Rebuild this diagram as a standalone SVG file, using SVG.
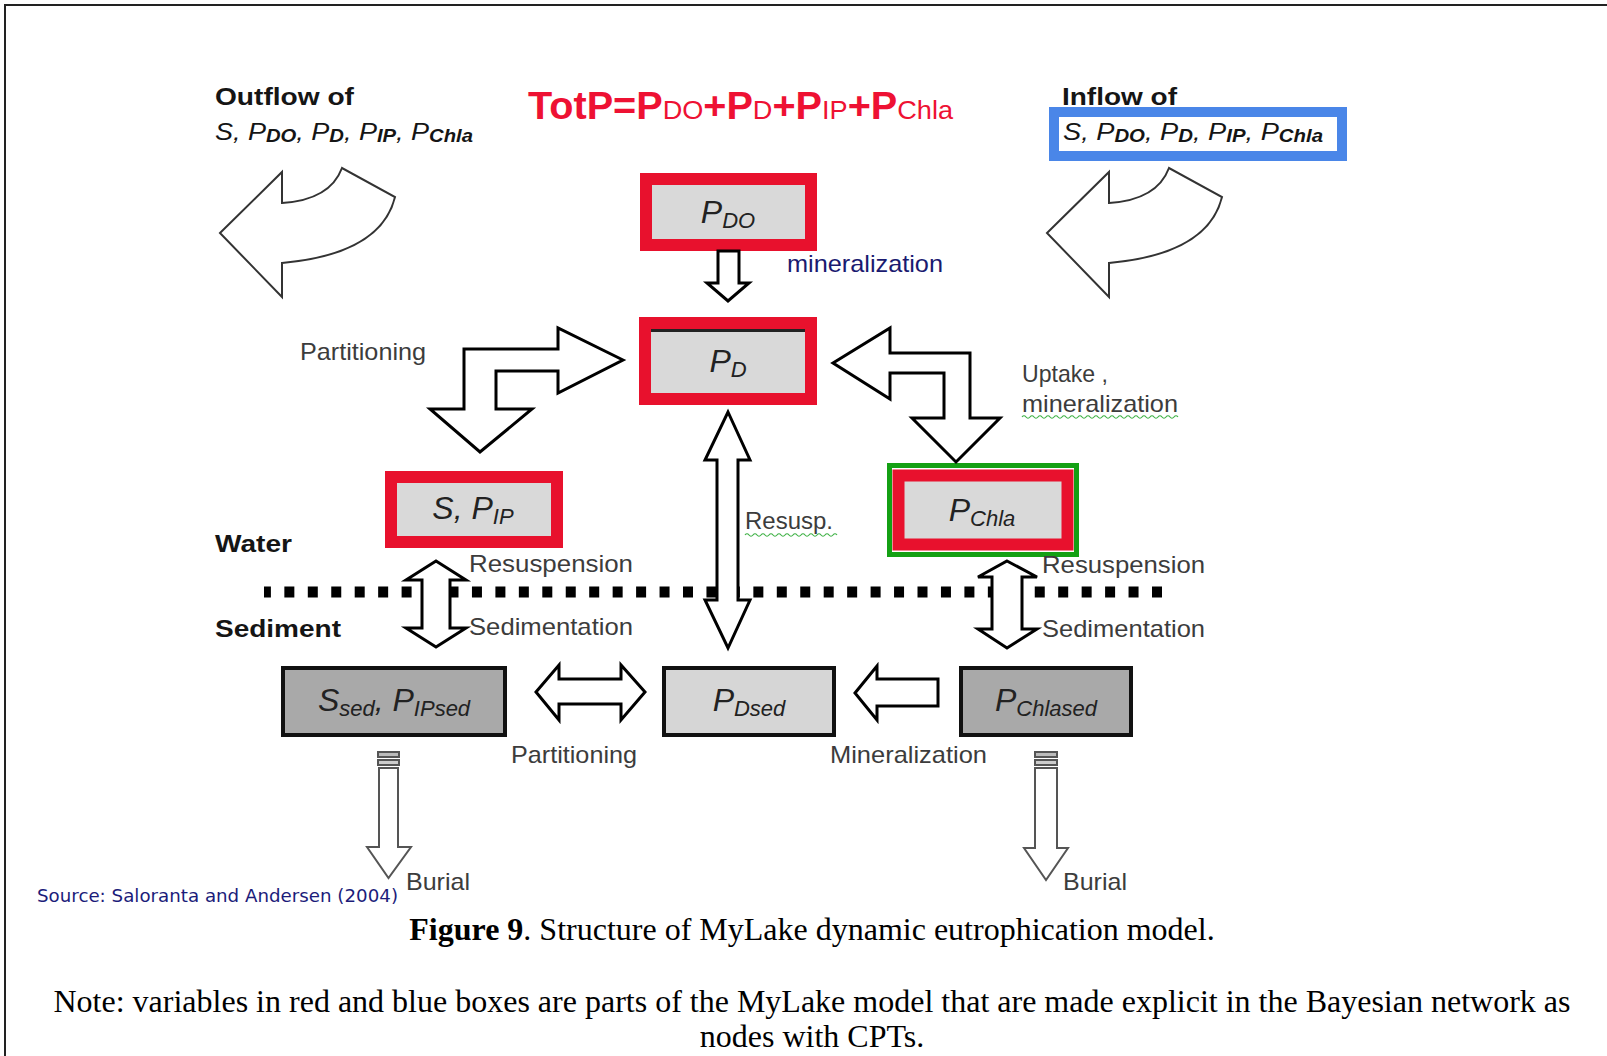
<svg xmlns="http://www.w3.org/2000/svg" width="1607" height="1056" viewBox="0 0 1607 1056">
  <style>
    .lbl { font-family: "Liberation Sans", Arial, sans-serif; font-size: 24px; fill: #3c3c3c; }
    .hdr { font-family: "Liberation Sans", Arial, sans-serif; font-size: 24px; font-weight: bold; fill: #151515; }
    .var { font-family: "Liberation Sans", Arial, sans-serif; font-size: 24px; font-style: italic; fill: #151515; }
    .vsub { font-size: 18px; font-weight: bold; }
    .node { font-family: "Liberation Sans", Arial, sans-serif; font-size: 32px; font-style: italic; fill: #222; text-anchor: middle; }
    .nsub { font-size: 22px; }
    .tot { font-family: "Liberation Sans", Arial, sans-serif; font-size: 38px; font-weight: bold; fill: #ee1133; }
    .tsub { font-size: 26px; font-weight: normal; }
    .cap { font-family: "Liberation Serif", "Times New Roman", serif; font-size: 32px; fill: #000; text-anchor: middle; }
    .redbox { fill: #d9d9d9; stroke: #e8112d; stroke-width: 12; }
    .sedbox { stroke: #111; stroke-width: 4; }
    .blk { fill: #fff; stroke: #000; stroke-width: 3; stroke-linejoin: miter; }
    .curve { fill: #fff; stroke: #333; stroke-width: 2; stroke-linejoin: miter; }
    .burial { fill: #fff; stroke: #555; stroke-width: 2; }
    .squig { fill: none; stroke: #3cb043; stroke-width: 1.2; }
  </style>

  <rect x="0" y="0" width="1607" height="1056" fill="#fff"/>
  <!-- frame -->
  <path d="M5 1056 V5 H1607" fill="none" stroke="#222" stroke-width="2"/>

  <!-- water / sediment boundary -->
  <line x1="264" y1="592" x2="1163" y2="592" stroke="#000" stroke-width="11" stroke-dasharray="10 13.45" stroke-dashoffset="3.1"/>
  <text class="hdr" x="215" y="552" textLength="77" lengthAdjust="spacingAndGlyphs">Water</text>
  <text class="hdr" x="215" y="637" textLength="126" lengthAdjust="spacingAndGlyphs">Sediment</text>

  <!-- outflow -->
  <g id="outflow">
    <text class="hdr" x="215" y="105" textLength="139" lengthAdjust="spacingAndGlyphs">Outflow of</text>
    <text class="var" x="215" y="140" textLength="258" lengthAdjust="spacingAndGlyphs">S, P<tspan class="vsub" dy="2">DO</tspan><tspan dy="-2">, P</tspan><tspan class="vsub" dy="2">D</tspan><tspan dy="-2">, P</tspan><tspan class="vsub" dy="2">IP</tspan><tspan dy="-2">, P</tspan><tspan class="vsub" dy="2">Chla</tspan></text>
    <path class="curve" d="M220 233 L282 172 L282 203 Q330 200 342 168 L395 197 Q381 254 282 263 L282 297 Z"/>
  </g>

  <!-- inflow -->
  <g id="inflow">
    <rect x="1054" y="112" width="288" height="44" fill="#fff" stroke="#4a86e8" stroke-width="10"/>
    <text class="hdr" x="1062" y="105" textLength="115" lengthAdjust="spacingAndGlyphs">Inflow of</text>
    <text class="var" x="1063" y="140" textLength="260" lengthAdjust="spacingAndGlyphs">S, P<tspan class="vsub" dy="2">DO</tspan><tspan dy="-2">, P</tspan><tspan class="vsub" dy="2">D</tspan><tspan dy="-2">, P</tspan><tspan class="vsub" dy="2">IP</tspan><tspan dy="-2">, P</tspan><tspan class="vsub" dy="2">Chla</tspan></text>
    <path class="curve" d="M1047 233 L1109 172 L1109 203 Q1157 200 1169 168 L1222 197 Q1208 254 1109 263 L1109 297 Z"/>
  </g>

  <!-- total phosphorus -->
  <text id="totp" class="tot" x="528" y="119" textLength="425" lengthAdjust="spacingAndGlyphs">TotP=P<tspan class="tsub">DO</tspan>+P<tspan class="tsub">D</tspan>+P<tspan class="tsub">IP</tspan>+P<tspan class="tsub">Chla</tspan></text>

  <!-- water column nodes -->
  <g id="node-pdo">
    <rect class="redbox" x="646" y="179" width="165" height="66" stroke-width="11"/>
    <text class="node" x="728" y="223">P<tspan class="nsub" dy="5">DO</tspan></text>
  </g>

  <g id="node-pd">
    <rect class="redbox" x="645" y="323" width="166" height="76"/>
    <line x1="651" y1="330.5" x2="805" y2="330.5" stroke="#222" stroke-width="3"/>
    <text class="node" x="728" y="372">P<tspan class="nsub" dy="5">D</tspan></text>
  </g>

  <g id="node-sip">
    <rect class="redbox" x="391" y="477" width="166" height="65"/>
    <text class="node" x="473" y="519">S, P<tspan class="nsub" dy="5">IP</tspan></text>
  </g>

  <g id="node-pchla">
    <rect x="889.5" y="465.5" width="187" height="89" fill="#fff" stroke="#14a014" stroke-width="5"/>
    <rect class="redbox" x="898.5" y="475.5" width="169" height="69" stroke-width="11"/>
    <text class="node" x="982" y="521">P<tspan class="nsub" dy="5">Chla</tspan></text>
  </g>

  <!-- sediment nodes -->
  <g id="node-ssed">
    <rect class="sedbox" x="283" y="668" width="222" height="67" fill="#a9a9a9"/>
    <text class="node" x="394" y="711">S<tspan class="nsub" dy="5">sed</tspan><tspan dy="-5">, P</tspan><tspan class="nsub" dy="5">IPsed</tspan></text>
  </g>

  <g id="node-pdsed">
    <rect class="sedbox" x="664" y="668" width="170" height="67" fill="#d6d6d6"/>
    <text class="node" x="749" y="711">P<tspan class="nsub" dy="5">Dsed</tspan></text>
  </g>

  <g id="node-pchlased">
    <rect class="sedbox" x="961" y="668" width="170" height="67" fill="#a9a9a9"/>
    <text class="node" x="1046" y="711">P<tspan class="nsub" dy="5">Chlased</tspan></text>
  </g>

  <!-- process arrows -->
  <g id="connectors">
    <!-- PDO mineralization -->
    <path class="blk" d="M718 251 L739 251 L739 283 L749 283 L728 301 L707 283 L718 283 Z"/>
    <!-- partitioning PD <-> S,PIP -->
    <path class="blk" d="M623 360 L558 328 L558 349 L464 349 L464 409 L430 409 L480 452 L532 409 L496 409 L496 371 L558 371 L558 393 Z"/>
    <!-- uptake / mineralization PD <-> PChla -->
    <path class="blk" d="M833 363 L890 328 L890 353 L970 353 L970 418 L1000 418 L956 462 L912 418 L944 418 L944 373 L890 373 L890 399 Z"/>
    <!-- resuspension PDsed <-> PD -->
    <path class="blk" d="M728 412 L750 460 L738 460 L738 600 L750 600 L728 648 L705 600 L717 600 L717 460 L705 460 Z"/>
    <!-- resuspension / sedimentation S,PIP <-> Ssed -->
    <path class="blk" d="M436 561 L466 580 L450 580 L450 628 L466 628 L436 647 L406 628 L422 628 L422 580 L406 580 Z"/>
    <!-- resuspension / sedimentation PChla <-> PChlased -->
    <path class="blk" d="M1007 561 L1037 577 L1022 577 L1022 629 L1037 629 L1007 648 L978 629 L992 629 L992 577 L978 577 Z"/>
    <!-- partitioning Ssed <-> PDsed -->
    <path class="blk" d="M536 692 L559 665 L559 679 L621 679 L621 665 L645 692 L621 720 L621 704 L559 704 L559 720 Z"/>
    <!-- mineralization PChlased -> PDsed -->
    <path class="blk" d="M855 693 L877 666 L877 679 L938 679 L938 706 L877 706 L877 720 Z"/>
    <!-- burial -->
    <g class="burial">
      <rect x="378" y="752" width="21" height="5" fill="#bbb"/>
      <rect x="378" y="760" width="21" height="5" fill="#ccc"/>
      <path d="M379 768 L398 768 L398 847 L411 847 L388.5 878 L367 847 L379 847 Z"/>
      <rect x="1035" y="752" width="22" height="5" fill="#bbb"/>
      <rect x="1035" y="760" width="22" height="5" fill="#ccc"/>
      <path d="M1035 768 L1057 768 L1057 848 L1068 848 L1046 880 L1024 848 L1035 848 Z"/>
    </g>
  </g>

  <!-- process labels -->
  <g id="labels">
    <text class="lbl" x="787" y="272" style="fill:#1a1a70" textLength="156" lengthAdjust="spacingAndGlyphs">mineralization</text>
    <text class="lbl" x="300" y="360" textLength="126" lengthAdjust="spacingAndGlyphs">Partitioning</text>
    <text class="lbl" x="1022" y="382" textLength="86" lengthAdjust="spacingAndGlyphs">Uptake ,</text>
    <text class="lbl" x="1022" y="412" textLength="156" lengthAdjust="spacingAndGlyphs">mineralization</text>
    <path class="squig" d="M1022 417 q2 -2.5 4 0 t4 0 t4 0 t4 0 t4 0 t4 0 t4 0 t4 0 t4 0 t4 0 t4 0 t4 0 t4 0 t4 0 t4 0 t4 0 t4 0 t4 0 t4 0 t4 0 t4 0 t4 0 t4 0 t4 0 t4 0 t4 0 t4 0 t4 0 t4 0 t4 0 t4 0 t4 0 t4 0 t4 0 t4 0 t4 0 t4 0 t4 0 t4 0"/>
    <text class="lbl" x="745" y="529" textLength="88" lengthAdjust="spacingAndGlyphs">Resusp.</text>
    <path class="squig" d="M745 535 q2 -2.5 4 0 t4 0 t4 0 t4 0 t4 0 t4 0 t4 0 t4 0 t4 0 t4 0 t4 0 t4 0 t4 0 t4 0 t4 0 t4 0 t4 0 t4 0 t4 0 t4 0 t4 0 t4 0 t4 0"/>
    <text class="lbl" x="469" y="572" textLength="164" lengthAdjust="spacingAndGlyphs">Resuspension</text>
    <text class="lbl" x="469" y="635" textLength="164" lengthAdjust="spacingAndGlyphs">Sedimentation</text>
    <text class="lbl" x="1042" y="573" textLength="163" lengthAdjust="spacingAndGlyphs">Resuspension</text>
    <text class="lbl" x="1042" y="637" textLength="163" lengthAdjust="spacingAndGlyphs">Sedimentation</text>
    <text class="lbl" x="511" y="763" textLength="126" lengthAdjust="spacingAndGlyphs">Partitioning</text>
    <text class="lbl" x="830" y="763" textLength="157" lengthAdjust="spacingAndGlyphs">Mineralization</text>
    <text class="lbl" x="406" y="890" textLength="64" lengthAdjust="spacingAndGlyphs">Burial</text>
    <text class="lbl" x="1063" y="890" textLength="64" lengthAdjust="spacingAndGlyphs">Burial</text>
    <text x="37" y="902" font-family="'DejaVu Sans', Verdana, sans-serif" font-size="17" fill="#1c1c7a" textLength="361" lengthAdjust="spacingAndGlyphs">Source: Saloranta and Andersen (2004)</text>
  </g>

  <!-- caption -->
  <text class="cap" x="812" y="940"><tspan font-weight="bold">Figure 9</tspan>. Structure of MyLake dynamic eutrophication model.</text>
  <text class="cap" x="812" y="1012" textLength="1517" lengthAdjust="spacingAndGlyphs">Note: variables in red and blue boxes are parts of the MyLake model that are made explicit in the Bayesian network as</text>
  <text class="cap" x="812" y="1047">nodes with CPTs.</text>
</svg>
